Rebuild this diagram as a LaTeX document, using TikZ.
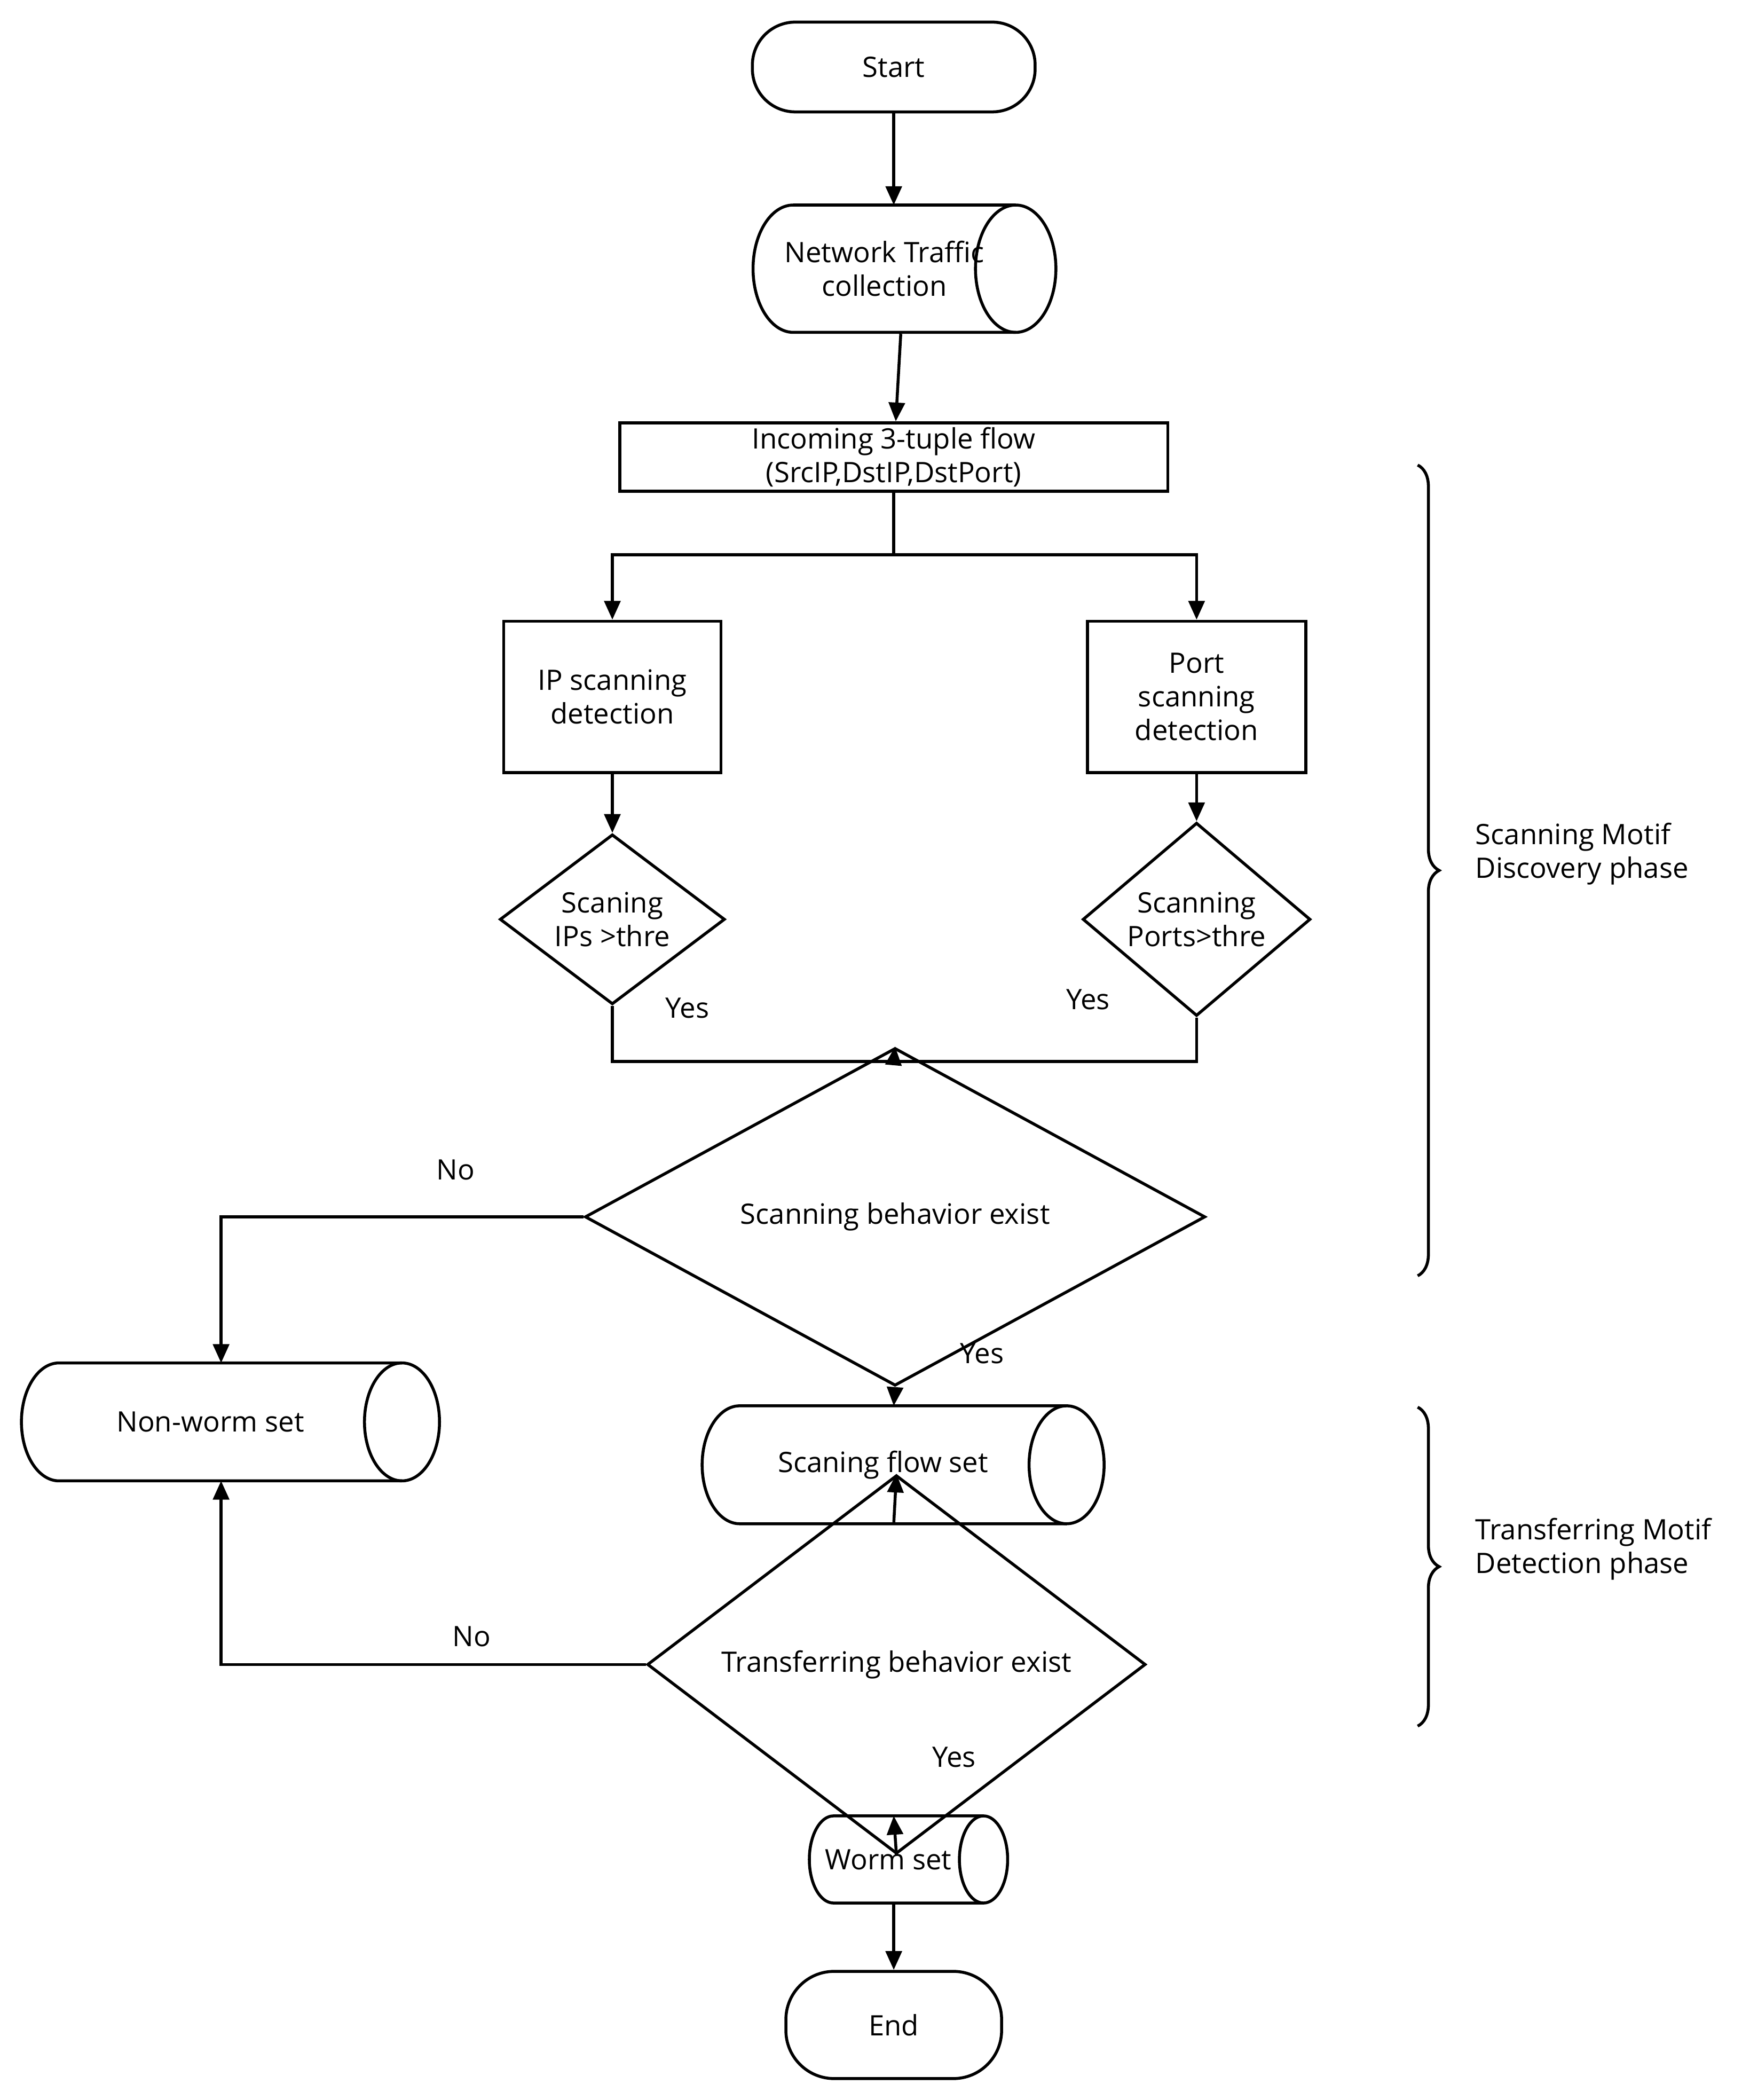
\documentclass[tikz,border=0pt]{standalone}
\usepackage{fontspec}
\setmainfont{Open Sans}
\usetikzlibrary{shapes.geometric,arrows.meta,decorations.pathreplacing,calc}
\begin{document}
\begin{tikzpicture}[x=0.5pt,y=-0.5pt,line width=1.1pt,
  every node/.style={font=\fontsize{10.5}{12.5}\selectfont,align=center,inner sep=1pt},
  box/.style={draw,rectangle},
  term/.style={draw,rounded corners=16pt},
  arr/.style={-{Triangle[length=7pt,width=6pt]}},
  brc/.style={decorate,decoration={brace,amplitude=8pt}},
  cylnode/.style={draw=none,inner sep=0pt}]
\useasboundingbox (0,0) rectangle (1300,1567);
\newcommand\mycyl[8]{% name, x1,y1,x2,y2, rx(pt), ry(pt), text
  \draw (#4,#3) -- (#2,#3) arc[start angle=90,end angle=270,x radius=#6pt,y radius=#7pt] -- (#4,#5);
  \draw ($(#4,#3)!0.5!(#4,#5)$) ellipse[x radius=#6pt,y radius=#7pt];
  \node[cylnode,minimum width={(#4-#2)*0.5pt+2*#6pt},minimum height={(#5-#3)*0.5pt}] (#1) at ($(#2,#3)!0.5!(#4,#5)$) {};
  \node at ($(#2,#3)!0.5!(#4,#5)+(-15,0)$) {#8};}
\node[term,minimum width=105.5pt,minimum height=33.5pt] (start) at (667,50) {Start};
\mycyl{ntc}{592}{153}{758}{248}{15}{23.75}{Network Traffic\\collection}
\node[box,minimum width=204.5pt,minimum height=25.5pt] (inc) at (667,341) {Incoming 3-tuple flow\\(SrcIP,DstIP,DstPort)};
\node[box,minimum width=81pt,minimum height=56.5pt] (ip) at (457,520) {IP scanning\\detection};
\node[box,minimum width=81.5pt,minimum height=56.5pt] (port) at (893,520) {Port\\scanning\\detection};
\node[draw,diamond,minimum width=84pt,minimum height=58pt,inner sep=0pt] (d1) at (457,686) {Scaning\\IPs >thre};
\node[draw,diamond,minimum width=85pt,minimum height=58pt,inner sep=0pt] (d2) at (893,686) {Scanning\\Ports>thre};
\node[draw,diamond,minimum width=231.5pt,minimum height=69.5pt,inner sep=0pt] (d3) at (668,908) {Scanning behavior exist};
\mycyl{nw}{44}{1017}{300}{1105}{14}{22}{Non-worm set}
\mycyl{sfs}{552}{1049}{796}{1137}{14}{22}{Scaning flow set}
\node[draw,diamond,minimum width=186pt,minimum height=47.5pt,inner sep=0pt] (d4) at (669,1242) {Transferring behavior exist};
\mycyl{ws}{622}{1355}{734}{1420}{9}{16.25}{Worm set}
\node[term,minimum width=80.5pt,minimum height=40pt,rounded corners=18pt] (end) at (667,1511) {End};
\coordinate (sp) at (667,414);
\coordinate (j) at (667,792);
\draw[arr] (start) -- (667,153);
\draw[arr] (ntc) -- (inc);
\draw (inc) -- (sp);
\draw[arr] (sp) -| (ip);
\draw[arr] (sp) -| (port);
\draw[arr] (ip) -- (d1);
\draw[arr] (port) -- (d2);
\draw (d1.south) |- (j) -| (d2.south);
\draw[arr] (j) -- (d3.north);
\draw[arr] (d3.west) -| (165,1017);
\draw[arr] (d3.south) -- (667,1049);
\draw[arr] (667,1137) -- (d4.north);
\draw[arr] (d4.west) -| (165,1105);
\draw[arr] (d4.south) -- (667,1355);
\draw[arr] (667,1420) -- (end);
\node at (513,752) {Yes};
\node at (812,746) {Yes};
\node at (340,873) {No};
\node at (733,1010) {Yes};
\node at (352,1221) {No};
\node at (712,1311) {Yes};
\draw[brc] (1058,347) -- (1058,952);
\node[anchor=west,align=left] at (1098,637) {Scanning Motif\\Discovery phase};
\draw[brc] (1058,1050) -- (1058,1288);
\node[anchor=west,align=left] at (1098,1156) {Transferring Motif\\Detection phase};
\end{tikzpicture}
\end{document}
